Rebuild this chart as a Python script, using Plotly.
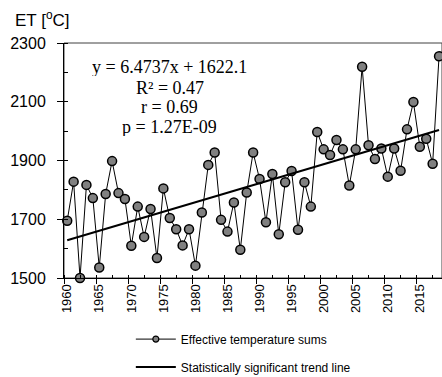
import plotly.graph_objects as go

# ---- data ----
years = list(range(1960, 2019))
et_sums = [1695, 1828, 1500, 1817, 1772, 1536, 1786, 1898, 1789, 1769,
           1610, 1743, 1640, 1735, 1568, 1805, 1704, 1666, 1611, 1666,
           1542, 1723, 1885, 1927, 1698, 1658, 1757, 1596, 1791, 1927,
           1837, 1690, 1854, 1649, 1826, 1864, 1664, 1826, 1743, 1997,
           1938, 1919, 1970, 1938, 1815, 1938, 2219, 1952, 1905, 1941,
           1845, 1941, 1865, 2006, 2099, 1947, 1974, 1889, 2255]
trend_slope = 6.4737
trend_intercept = 1622.1
x_tick_labels = ["1960", "1965", "1970", "1975", "1980", "1985", "1990",
                 "1995", "2000", "2005", "2010", "2015"]
y_tick_values = [1500, 1700, 1900, 2100, 2300]
stats_lines = ["y = 6.4737x + 1622.1", "R² = 0.47", "r = 0.69", "p = 1.27E-09"]
series_names = ["Effective temperature sums", "Statistically significant trend line"]

trend_values = [trend_intercept + trend_slope * (i + 1) for i in range(len(years))]

SANS = "Liberation Sans, Arial, sans-serif"
SERIF = "Liberation Serif, Times New Roman, serif"

fig = go.Figure()

fig.add_trace(go.Scatter(
    x=years, y=et_sums, mode="lines+markers",
    line=dict(color="black", width=1),
    marker=dict(size=9, color="#808080", line=dict(color="black", width=1.5)),
    showlegend=False, cliponaxis=False,
))
fig.add_trace(go.Scatter(
    x=[None], y=[None], mode="lines+markers", name=series_names[0],
    line=dict(color="black", width=1),
    marker=dict(size=6, color="#808080", line=dict(color="black", width=1.2)),
    legendgroup="a",
))
fig.add_trace(go.Scatter(
    x=years, y=trend_values, mode="lines", name=series_names[1],
    line=dict(color="black", width=2), legendgroup="b", xaxis="x2",
))

label_years = [int(t) for t in x_tick_labels]
x_range = [1959.5, 2018.46]

fig.update_layout(
    width=442, height=377,
    margin=dict(l=64, r=0, t=43, b=99, autoexpand=False),
    plot_bgcolor="white", paper_bgcolor="white",
    font=dict(family=SANS, color="black"),
    xaxis=dict(
        range=x_range, showgrid=False, zeroline=False, automargin=False,
        showline=True, linecolor="black", linewidth=1,
        tickmode="array", tickvals=label_years, ticktext=x_tick_labels,
        tickangle=-90, ticks="",
        tickfont=dict(family=SANS, size=13, color="black"),
    ),
    xaxis2=dict(
        range=x_range, matches="x", overlaying="x", anchor="y", side="bottom",
        showgrid=False, zeroline=False, showline=False, showticklabels=False,
        automargin=False,
        tickmode="array", tickvals=[y - 0.5 for y in label_years],
        ticks="outside", ticklen=5, tickcolor="black",
        minor=dict(ticks="inside", tick0=1959.5, dtick=2.5, ticklen=3, tickcolor="black"),
    ),
    yaxis=dict(
        range=[1500, 2300], showgrid=False, zeroline=False, automargin=False,
        showline=True, linecolor="black", linewidth=1,
        tickmode="array", tickvals=y_tick_values,
        ticks="outside", ticklen=6, tickcolor="black", ticklabelstandoff=8,
        tickfont=dict(family=SANS, size=16, color="black"),
        minor=dict(ticks="inside", tick0=1500, dtick=100, ticklen=4, tickcolor="black"),
    ),
    legend=dict(
        xref="container", yref="container",
        x=0.296, xanchor="left", y=0.139, yanchor="top",
        font=dict(family=SANS, size=12, color="black"),
        itemwidth=40, tracegroupgap=9, bgcolor="rgba(0,0,0,0)",
    ),
    shapes=[dict(type="rect", xref="paper", yref="paper", x0=0, x1=1, y0=0, y1=1,
                 line=dict(color="#404040", width=1), layer="below")],
)

fig.add_annotation(text="ET [<sup>o</sup>C]", xref="paper", yref="paper",
                   x=-0.136, y=1.103, xanchor="left", yanchor="middle",
                   showarrow=False, font=dict(family=SANS, size=17, color="black"))

stat_y = [0.897, 0.8077, 0.7267, 0.6421]
for txt, yy in zip(stats_lines, stat_y):
    fig.add_annotation(text=txt, xref="paper", yref="paper", x=0.2804, y=yy,
                       xanchor="center", yanchor="middle", showarrow=False,
                       height=18, borderpad=0,
                       font=dict(family=SERIF, size=18, color="black"))

fig.write_html("out.html")
